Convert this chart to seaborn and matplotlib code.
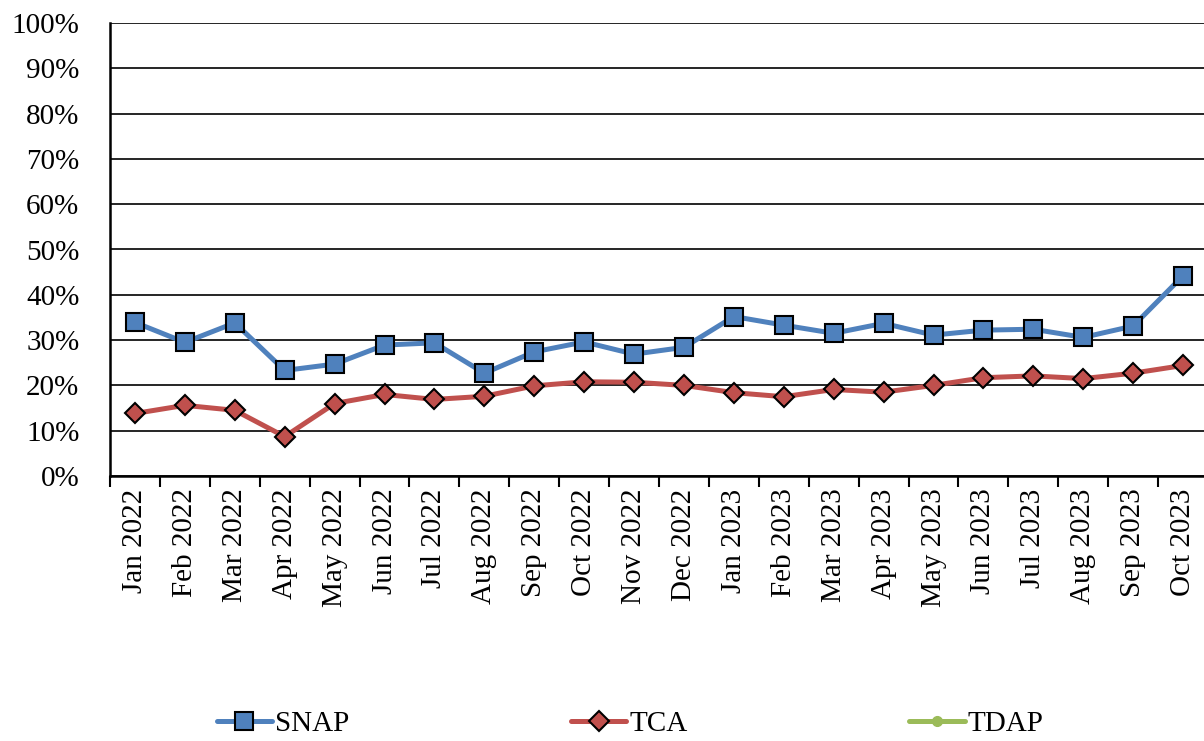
import numpy as np
import pandas as pd
import matplotlib
matplotlib.use("Agg")
import matplotlib.pyplot as plt
from matplotlib.lines import Line2D
from matplotlib.ticker import FixedLocator, PercentFormatter
import seaborn as sns

months = ["Jan 2022", "Feb 2022", "Mar 2022", "Apr 2022", "May 2022", "Jun 2022",
          "Jul 2022", "Aug 2022", "Sep 2022", "Oct 2022", "Nov 2022", "Dec 2022",
          "Jan 2023", "Feb 2023", "Mar 2023", "Apr 2023", "May 2023", "Jun 2023",
          "Jul 2023", "Aug 2023", "Sep 2023", "Oct 2023"]
snap = [33.9, 29.5, 33.8, 23.3, 24.7, 28.9, 29.4, 22.7, 27.4, 29.6, 26.9, 28.4,
        35.2, 33.3, 31.5, 33.7, 31.1, 32.2, 32.4, 30.6, 33.1, 44.2]
tca = [13.8, 15.6, 14.5, 8.7, 16.0, 18.0, 16.9, 17.6, 19.9, 20.8, 20.7, 20.0,
       18.4, 17.5, 19.1, 18.5, 20.0, 21.7, 22.1, 21.5, 22.7, 24.4]
tdap = [np.nan] * len(months)
series_names = ["SNAP", "TCA", "TDAP"]
colors = ["#4F81BD", "#C0504D", "#9BBB59"]

sns.set_style("white")
plt.rcParams['font.family'] = ['Liberation Serif', 'DejaVu Serif']
plt.rcParams['text.color'] = 'black'
plt.rcParams['xtick.color'] = 'black'
plt.rcParams['ytick.color'] = 'black'

fig = plt.figure(figsize=(12.04, 7.41), dpi=100)
ax = fig.add_axes([110/1204, 1-476/741, (1208-110)/1204, (476-23)/741])

x = np.arange(len(months))
df = pd.DataFrame({"x": x, "SNAP": snap, "TCA": tca})

sns.lineplot(data=df, x="x", y="SNAP", ax=ax, color=colors[0], lw=3.6,
             marker="s", markersize=13, markerfacecolor=colors[0],
             markeredgecolor="black", markeredgewidth=1.5, zorder=4)
sns.lineplot(data=df, x="x", y="TCA", ax=ax, color=colors[1], lw=3.6,
             marker="D", markersize=10.5, markerfacecolor=colors[1],
             markeredgecolor="black", markeredgewidth=1.5, zorder=3)

ax.set_xlim(-0.5, len(months) - 0.5)
ax.set_ylim(0, 100)
ax.set_yticks(np.arange(0, 101, 10))
ax.yaxis.set_major_formatter(PercentFormatter(decimals=0))
ax.yaxis.grid(True, color="black", lw=1.2)
ax.xaxis.grid(False)
ax.set_axisbelow(True)

ax.set_xticks(x)
ax.set_xticklabels(months, rotation=90)
ax.xaxis.set_minor_locator(FixedLocator(np.arange(-0.5, len(months), 1.0)))
ax.tick_params(axis="x", which="major", length=0, pad=9, labelsize=21, labelcolor="black")
ax.tick_params(axis="x", which="minor", length=8, width=1.5, color="black",
               direction="out", bottom=True)
ax.tick_params(axis="y", length=0, pad=22, labelsize=21, labelcolor="black")
for lab in ax.get_yticklabels():
    lab.set_ha("right")
ax.set_xlabel("")
ax.set_ylabel("")

for s in ["top", "right"]:
    ax.spines[s].set_visible(False)
for s in ["left", "bottom"]:
    ax.spines[s].set_color("black")
    ax.spines[s].set_linewidth(1.8)

handles = [
    Line2D([], [], color=colors[0], lw=3.6, marker="s", markersize=13,
           markerfacecolor=colors[0], markeredgecolor="black", markeredgewidth=1.5),
    Line2D([], [], color=colors[1], lw=3.6, marker="D", markersize=10.5,
           markerfacecolor=colors[1], markeredgecolor="black", markeredgewidth=1.5),
    Line2D([], [], color=colors[2], lw=3.6, marker="o", markersize=7,
           markerfacecolor=colors[2], markeredgecolor=colors[2]),
]
leg = fig.legend(handles, series_names, loc="center", bbox_to_anchor=(630/1204, 1-724/741),
                 ncol=3, frameon=False, fontsize=21, handlelength=1.9, handletextpad=0.1,
                 columnspacing=7.6)
for t in leg.get_texts():
    t.set_color("black")

fig.savefig("out.png", dpi=100)
